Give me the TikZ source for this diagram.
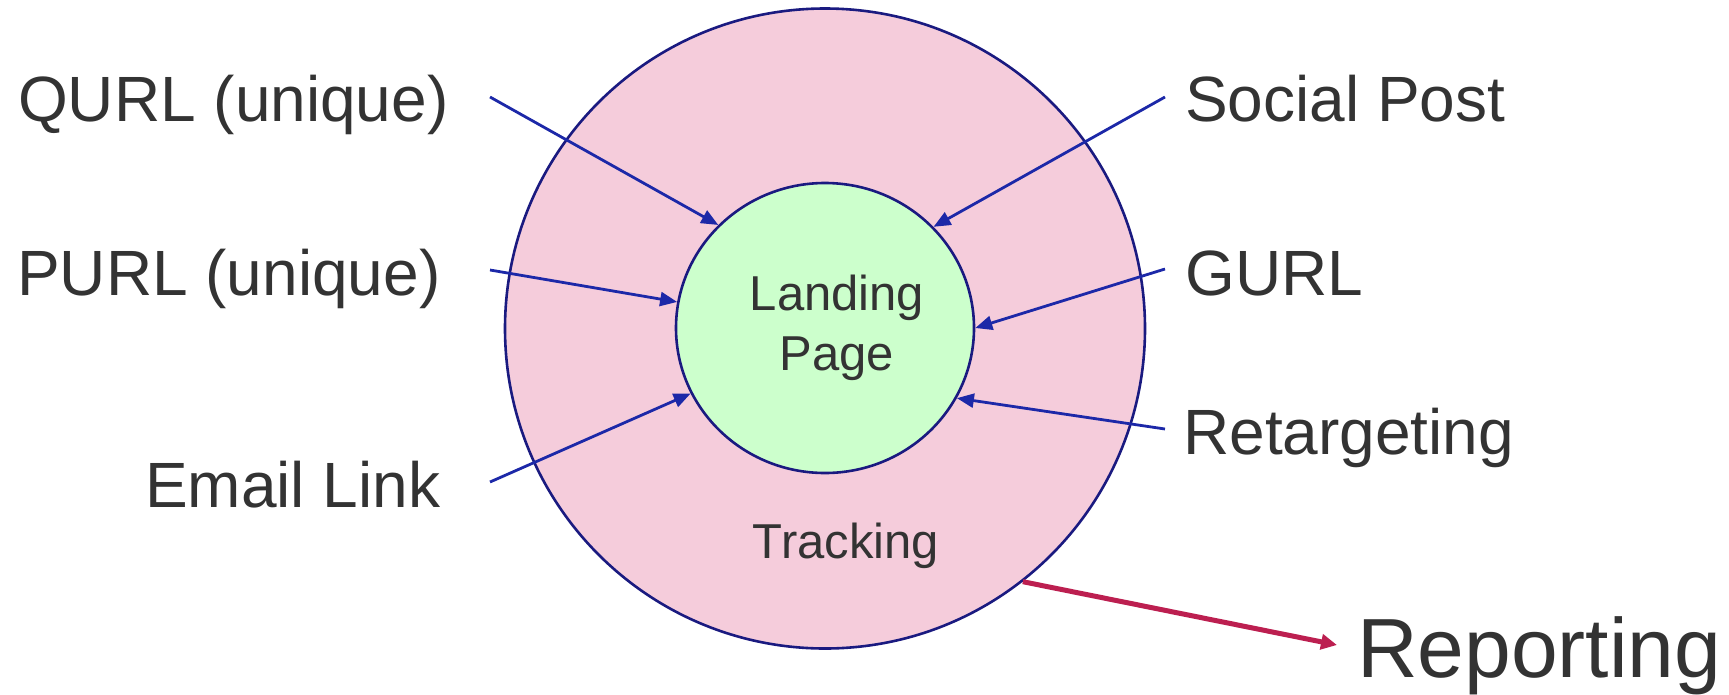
\documentclass[tikz,border=0pt]{standalone}
\usepackage{fontspec}
\setmainfont{Liberation Sans}
\usetikzlibrary{arrows.meta,shapes.geometric}
\definecolor{ringpink}{HTML}{F5CCDB}
\definecolor{coregreen}{HTML}{CCFFCC}
\definecolor{rimnavy}{HTML}{1A1A80}
\definecolor{linkblue}{HTML}{1C28A8}
\definecolor{reportred}{HTML}{BC1F50}
\definecolor{inktext}{HTML}{333333}
\begin{document}
\begin{tikzpicture}[x=1pt,y=-1pt,
  source/.style={inner sep=0pt, text=inktext, font=\fontsize{64}{77}\selectfont},
  inner/.style={inner sep=0pt, text=inktext, font=\fontsize{49}{59}\selectfont},
  rim/.style={draw=rimnavy, line width=2.6pt, inner sep=0pt},
  feed/.style={draw=linkblue, line width=2.8pt, -{Triangle[length=17pt,width=14pt]}},
  outflow/.style={draw=reportred, line width=5pt, -{Triangle[length=16pt,width=15pt]}}]
\useasboundingbox (0,0) rectangle (1729,694);

% tracking ring and landing page core
\node[circle, rim, fill=ringpink, minimum size=640pt] (track) at (825,328.5) {};
\node[ellipse, rim, fill=coregreen, minimum width=298pt, minimum height=290pt] (land) at (825,328) {};

\node[inner, anchor=base] (landA) at (837,310) {Landing};
\node[inner, anchor=base] (landB) at (837,370) {Page};
\node[inner, anchor=base] (tracktxt) at (846,558) {Tracking};

% traffic sources
\node[source, anchor=base west] (qurl) at (18,121) {QURL (unique)};
\node[source, anchor=base west] (purl) at (17,295) {PURL (unique)};
\node[source, anchor=base west] (email) at (145,507) {Email Link};
\node[source, anchor=base west] (social) at (1185,121) {Social Post};
\node[source, anchor=base west] (gurl) at (1185,295) {GURL};
\node[source, anchor=base west] (retarget) at (1183,454) {Retargeting};

\coordinate (qs) at (490,97);
\coordinate (ps) at (490,270);
\coordinate (es) at (490,482);
\coordinate (ss) at (1165,97);
\coordinate (gs) at (1165,269);
\coordinate (rs) at (1165,429);

\draw[feed] (qs) -- (land.136.2);
\draw[feed] (ps) -- (land.170.3);
\draw[feed] (es) -- (land.206.7);
\draw[feed] (ss) -- (land.43.6);
\draw[feed] (gs) -- (land.0.4);
\draw[feed] (rs) -- (land.-28.3);

% reporting output
\node[inner sep=0pt, text=inktext, font=\fontsize{84}{100}\selectfont, anchor=base west] (report) at (1357,677) {Reporting};
\coordinate (rtip) at (1337,645);
\draw[outflow] (track.-52.9) -- (rtip);
\end{tikzpicture}
\end{document}
